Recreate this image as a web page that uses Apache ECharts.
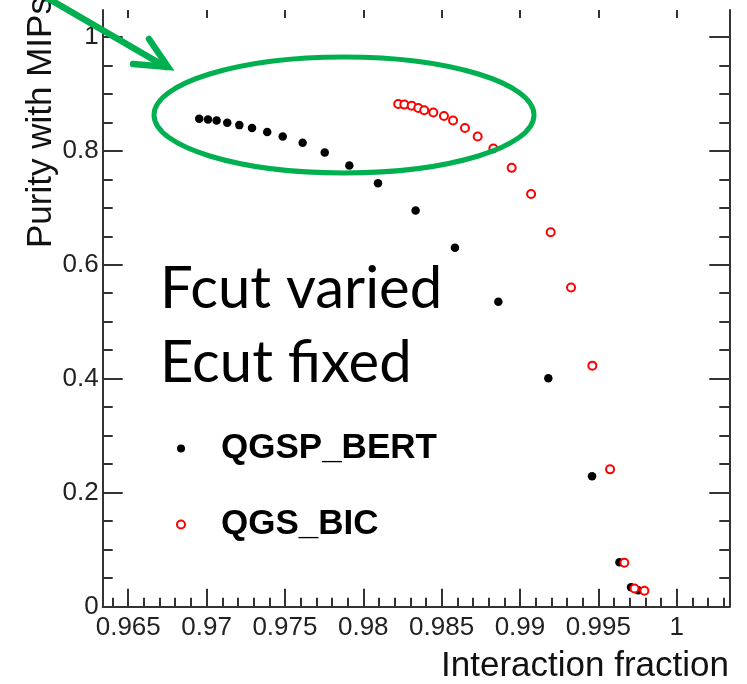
<!DOCTYPE html>
<html>
<head>
<meta charset="utf-8">
<script src="https://cdn.jsdelivr.net/npm/echarts@6/dist/echarts.min.js"></script>
<style>
html,body{margin:0;padding:0;background:#fff;}
#chart{width:747px;height:684px;}
</style>
</head>
<body>
<div id="chart"></div>
<script>
// ---- data ----
const bertX = [0.96953,0.97009,0.97064,0.97132,0.97209,0.97290,0.97387,0.97486,0.97613,0.97754,0.97911,0.98094,0.98334,0.98585,0.98862,0.99181,0.99460,0.99635,0.99709,0.99755];
const bertY = [0.856,0.855,0.853,0.849,0.845,0.840,0.833,0.825,0.814,0.797,0.774,0.743,0.695,0.630,0.535,0.401,0.229,0.078,0.034,0.029];
const bicX = [0.98223,0.98262,0.98309,0.98351,0.98389,0.98447,0.98515,0.98573,0.98649,0.98730,0.98830,0.98947,0.99071,0.99196,0.99326,0.99462,0.99575,0.99666,0.99731,0.99794];
const bicY = [0.882,0.881,0.879,0.875,0.871,0.867,0.861,0.853,0.840,0.825,0.804,0.770,0.724,0.657,0.560,0.423,0.241,0.077,0.032,0.028];
const seriesNames = ['QGSP_BERT','QGS_BIC'];

// ---- ticks ----
const xMajor = [0.965,0.97,0.975,0.98,0.985,0.99,0.995,1];
const xTickLabels = ['0.965','0.97','0.975','0.98','0.985','0.99','0.995','1'];
const xMinor = [0.964,0.966,0.967,0.968,0.969,0.971,0.972,0.973,0.974,0.976,0.977,0.978,0.979,0.981,0.982,0.983,0.984,0.986,0.987,0.988,0.989,0.991,0.992,0.993,0.994,0.996,0.997,0.998,0.999,1.001,1.002,1.003];
const yMajor = [0,0.2,0.4,0.6,0.8,1];
const yTickLabels = ['0','0.2','0.4','0.6','0.8','1'];
const yMinor = [0.05,0.1,0.15,0.25,0.3,0.35,0.45,0.5,0.55,0.65,0.7,0.75,0.85,0.9,0.95];

const xMin = 0.96337, xMax = 1.00336, yMin = 0, yMax = 1.047;
const axisCol = '#333';
const lblFont = 'Liberation Sans, Arial, sans-serif';

function xAx(pos, vals, len, showLine, labels) {
  return {
    type:'value', position:pos, min:xMin, max:xMax, splitLine:{show:false},
    axisLine:{show:showLine, onZero:false, lineStyle:{color:axisCol, width:2}},
    axisTick:{show:true, inside:true, length:len, customValues:vals, lineStyle:{color:axisCol, width:2}},
    minorTick:{show:false},
    axisLabel: labels ? {show:true, customValues:xMajor, margin:8, fontSize:26, color:'#222', fontFamily:lblFont,
      formatter:function(v){ const i = xMajor.findIndex(m=>Math.abs(m-v)<1e-9); return i>=0 ? xTickLabels[i] : ''; }} : {show:false}
  };
}
function yAx(pos, vals, len, showLine, labels) {
  return {
    type:'value', position:pos, min:yMin, max:yMax, splitLine:{show:false},
    axisLine:{show:showLine, onZero:false, lineStyle:{color:axisCol, width:2}},
    axisTick:{show:true, inside:true, length:len, customValues:vals, lineStyle:{color:axisCol, width:2}},
    minorTick:{show:false},
    axisLabel: labels ? {show:true, customValues:yMajor, margin:4, fontSize:26, color:'#222', fontFamily:lblFont,
      formatter:function(v){ const i = yMajor.findIndex(m=>Math.abs(m-v)<1e-9); return i>=0 ? yTickLabels[i] : ''; }} : {show:false}
  };
}

const chart = echarts.init(document.getElementById('chart'), null, {renderer:'canvas'});
const green = '#00b050';
chart.setOption({
  animation:false,
  backgroundColor:'#fff',
  grid:{left:102.7, right:17.7, top:10, bottom:77.3, containLabel:false, outerBoundsMode:'none'},
  xAxis:[
    xAx('bottom', xMajor, 18, true, true),
    xAx('bottom', xMinor, 9, false, false),
    xAx('top', xMajor, 8, false, false)
  ],
  yAxis:[
    yAx('left', yMajor, 20, true, true),
    yAx('left', yMinor, 10, false, false),
    yAx('right', yMajor, 20, true, false),
    yAx('right', yMinor, 10, false, false)
  ],
  legend:{
    orient:'vertical', left:171, top:426, itemWidth:70, itemHeight:8, itemGap:41,
    symbolKeepAspect:true,
    textStyle:{fontSize:35, fontWeight:'bold', color:'#000', fontFamily:lblFont},
    data:seriesNames
  },
  series:[
    {name:seriesNames[0], type:'scatter', xAxisIndex:0, yAxisIndex:0, symbol:'circle', symbolSize:8.5,
     itemStyle:{color:'#000', opacity:1}, data:bertX.map((x,i)=>[x,bertY[i]])},
    {name:seriesNames[1], type:'scatter', xAxisIndex:0, yAxisIndex:0, symbol:'emptyCircle', symbolSize:8,
     itemStyle:{color:'#ff0000', borderColor:'#ff0000', borderWidth:1.6, opacity:1}, data:bicX.map((x,i)=>[x,bicY[i]])}
  ],
  graphic:[
    {type:'text', x:41, y:248, rotation:Math.PI/2, z:50,
     style:{text:'Purity with MIPs', fontSize:35, fontFamily:lblFont, fill:'#111', textAlign:'left', textVerticalAlign:'middle'}},
    {type:'text', x:729, y:666, z:50,
     style:{text:'Interaction fraction', fontSize:35, fontFamily:lblFont, fill:'#111', textAlign:'right', textVerticalAlign:'middle'}},
    {type:'text', x:160, y:289, z:50,
     style:{text:'Fcut varied', fontSize:58, fontFamily:'Lato, sans-serif', fill:'#000', textAlign:'left', textVerticalAlign:'middle'}},
    {type:'text', x:160, y:363, z:50,
     style:{text:'Ecut fixed', fontSize:58, fontFamily:'Lato, sans-serif', fill:'#000', textAlign:'left', textVerticalAlign:'middle'}},
    {type:'ellipse', z:60, shape:{cx:344, cy:115, rx:190, ry:58},
     style:{fill:'none', stroke:green, lineWidth:5}},
    {type:'polyline', z:60, shape:{points:[[25,-15],[166,67]]},
     style:{fill:'none', stroke:green, lineWidth:6.5, lineCap:'round'}},
    {type:'polyline', z:60, shape:{points:[[149,39],[168,67],[133,64]]},
     style:{fill:'none', stroke:green, lineWidth:6.5, lineCap:'round', lineJoin:'miter'}}
  ]
});
</script>
</body>
</html>
